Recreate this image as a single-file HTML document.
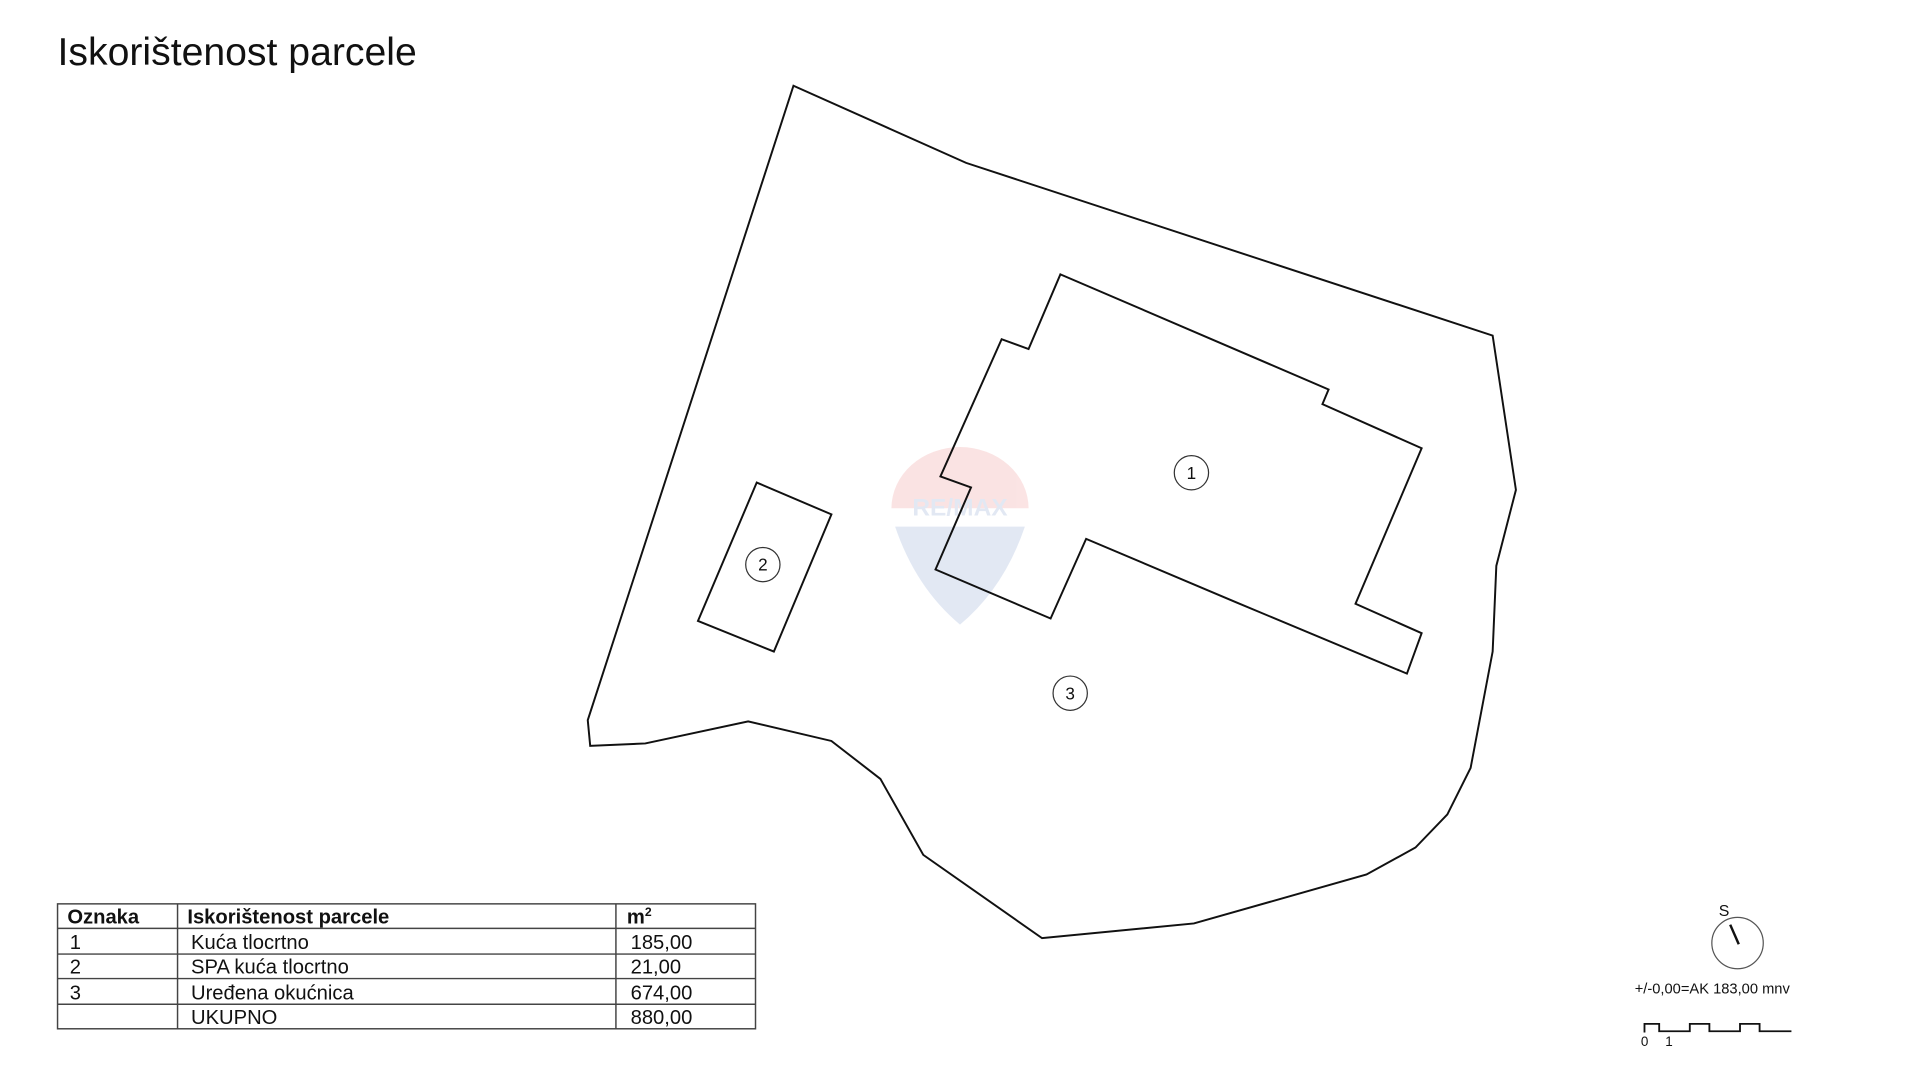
<!DOCTYPE html>
<html><head><meta charset="utf-8"><style>html,body{margin:0;padding:0;background:#fff}svg{display:block}</style></head>
<body>
<svg width="1920" height="1079" viewBox="0 0 1568 881" preserveAspectRatio="none" xmlns="http://www.w3.org/2000/svg" font-family="Liberation Sans, Arial, sans-serif">
<rect width="1568" height="881" fill="#fff"/>
<text x="47" y="53" font-size="32" fill="#111">Iskorištenost parcele</text>
<!-- watermark -->
<g opacity="0.14">
<path d="M728,415 A56,50 0 0 1 840,415 Z" fill="#e0413f"/>
<path d="M731,430 L837,430 Q820,480 784,510 Q748,480 731,430 Z" fill="#3a64b0"/>
<text x="784" y="421" font-size="20" font-weight="bold" text-anchor="middle" fill="#3a64b0">RE/MAX</text>
</g>
<g fill="none" stroke="#111" stroke-width="1.6" stroke-linejoin="miter">
<polygon points="648,70 789,133 1219,274 1238,400 1222,462 1219,532 1201,627 1182,665 1156,692 1116,714 975,754 851,766 754,698 719,636 679,605 611,589 527,607 482,609 480,588"/>
<polygon points="866,224 1085,318 1080,330 1161,366 1107,493 1161,517 1149,550 1010,492 887,440 858,505 764,465 793,398 768,389 818,277 840,285"/>
<polygon points="618,394 679,420 632,532 570,507"/>
</g>
<g fill="none" stroke="#333" stroke-width="1">
<circle cx="973" cy="386" r="14"/><circle cx="623" cy="461" r="14"/><circle cx="874" cy="566" r="14"/>
</g>
<g font-size="14" text-anchor="middle" fill="#111">
<text x="973" y="391">1</text><text x="623" y="466">2</text><text x="874" y="571">3</text>
</g>
<!-- table -->
<g stroke="#444" stroke-width="1.2" fill="none">
<rect x="47" y="738" width="570" height="102"/>
<line x1="47" y1="758" x2="617" y2="758"/><line x1="47" y1="779" x2="617" y2="779"/>
<line x1="47" y1="799" x2="617" y2="799"/><line x1="47" y1="820" x2="617" y2="820"/>
<line x1="145" y1="738" x2="145" y2="840"/><line x1="503" y1="738" x2="503" y2="840"/>
</g>
<g font-size="16.5" fill="#111">
<text x="55" y="754" font-weight="bold">Oznaka</text>
<text x="153" y="754" font-weight="bold">Iskorištenost parcele</text>
<text x="512" y="754" font-weight="bold">m<tspan font-size="10" dy="-6">2</tspan></text>
<text x="57" y="775">1</text><text x="156" y="775">Kuća tlocrtno</text><text x="515" y="775">185,00</text>
<text x="57" y="795">2</text><text x="156" y="795">SPA kuća tlocrtno</text><text x="515" y="795">21,00</text>
<text x="57" y="816">3</text><text x="156" y="816">Uređena okućnica</text><text x="515" y="816">674,00</text>
<text x="156" y="836">UKUPNO</text><text x="515" y="836">880,00</text>
</g>
<!-- compass -->
<circle cx="1419" cy="770" r="21" fill="none" stroke="#555" stroke-width="1"/>
<line x1="1413" y1="755" x2="1420" y2="771" stroke="#111" stroke-width="2"/>
<text x="1408" y="748" font-size="13" text-anchor="middle" fill="#111">S</text>
<text x="1335" y="811" font-size="12" fill="#111">+/-0,00=AK 183,00 mnv</text>
<polyline points="1343,843 1343,836 1355,836 1355,842 1380,842 1380,836 1396,836 1396,842 1421,842 1421,836 1437,836 1437,842 1463,842" fill="none" stroke="#111" stroke-width="1.5"/>
<text x="1340" y="854" font-size="11" fill="#111">0</text><text x="1360" y="854" font-size="11" fill="#111">1</text>
</svg>
</body></html>
